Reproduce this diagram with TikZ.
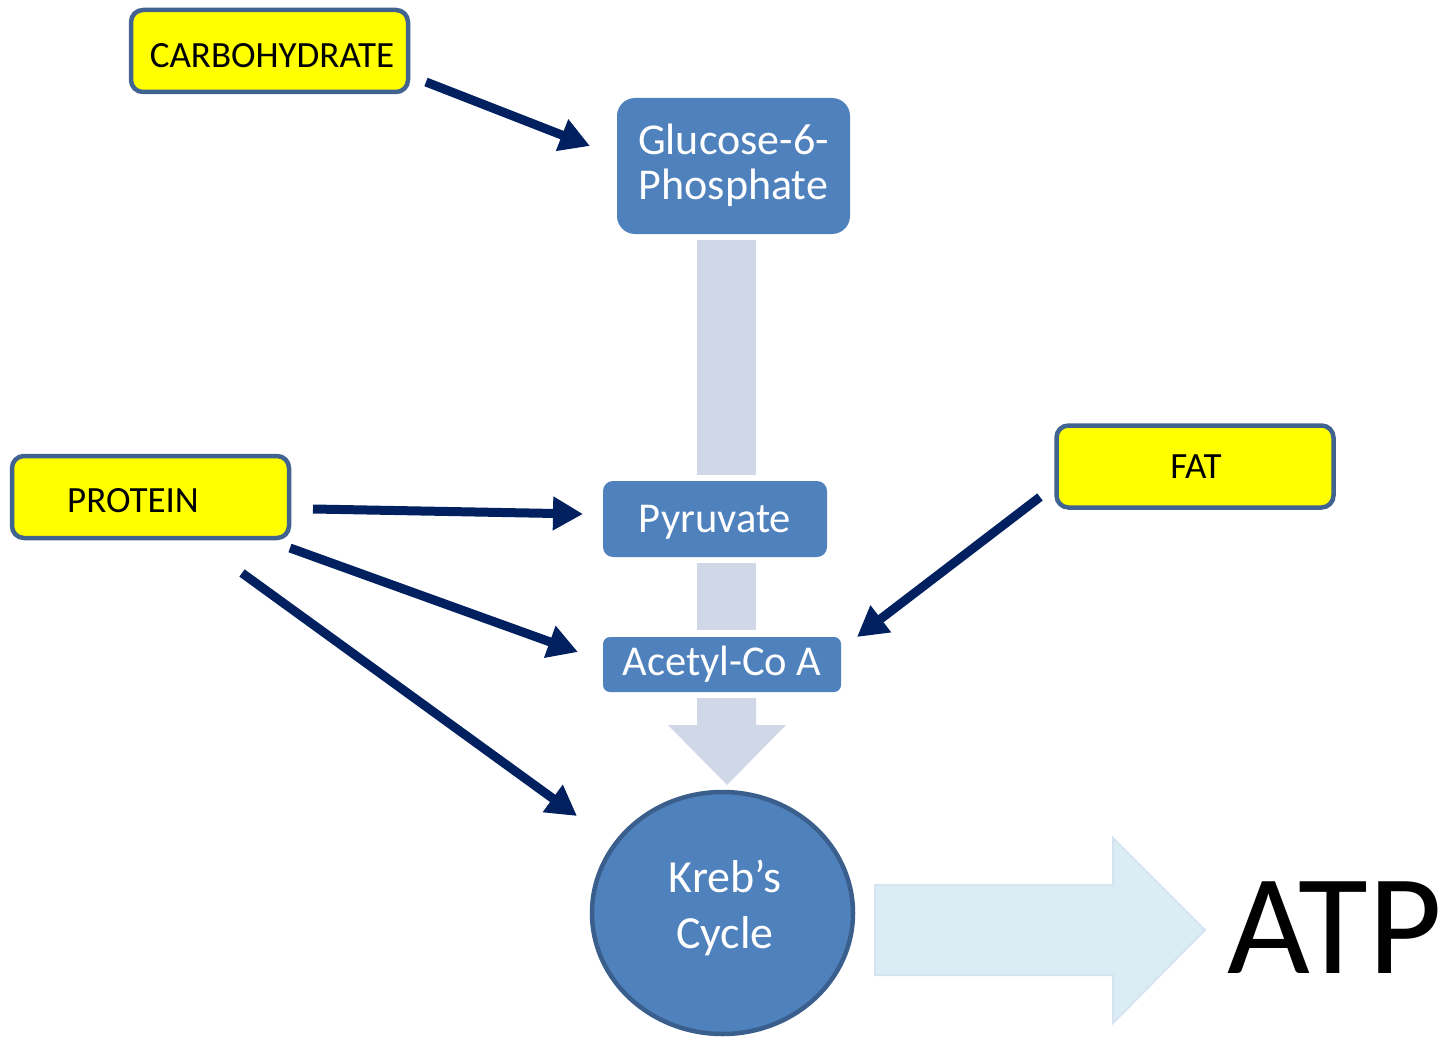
\documentclass[tikz,border=0pt]{standalone}
\usepackage{fontspec}
\setmainfont{Carlito}
\usetikzlibrary{arrows.meta,shapes.geometric}
\definecolor{ybox}{HTML}{FFFF00}
\definecolor{yborder}{HTML}{41638F}
\definecolor{bfill}{HTML}{4F81BD}
\definecolor{bborder}{HTML}{3A5F8C}
\definecolor{pale}{HTML}{D0D8E8}
\definecolor{navy}{HTML}{002060}
\definecolor{lightarrow}{HTML}{DBEDF4}
\definecolor{lightborder}{HTML}{D6E3F0}
\begin{document}
\begin{tikzpicture}[x=1pt,y=-1pt,
  srcbox/.style={draw=yborder, line width=4.5pt, fill=ybox, rounded corners=12pt,
    minimum width=277pt, minimum height=82pt, inner sep=0pt},
  srclbl/.style={anchor=base, inner sep=0pt, text=black, font=\fontsize{37}{40}\selectfont},
  stagebox/.style={fill=bfill, inner sep=0pt},
  stagelbl/.style={anchor=base, inner sep=0pt, text=white, font=\fontsize{42.5}{45}\selectfont},
  feed/.style={draw=navy, line width=9pt, -{Triangle[length=30pt,width=32pt]}},
  palebar/.style={fill=pale, draw=none}
]
\useasboundingbox (0,0) rectangle (1441,1038);

% pale connectors
\fill[palebar] (697,240) rectangle (756,475);
\fill[palebar] (697,563) rectangle (756,630);
\fill[palebar] (697,698) -- (756,698) -- (756,725) -- (786,725) -- (727,785) -- (668,725) -- (697,725) -- cycle;

% big output arrow
\draw[fill=lightarrow, draw=lightborder, line width=2pt]
  (875,885) -- (1113,885) -- (1113,838) -- (1205,930) -- (1113,1023) -- (1113,975) -- (875,975) -- cycle;

% source boxes
\node[srcbox] (carb) at (269.5,51) {};
\node[srclbl] (carblbl) at (272,68) {CARBOHYDRATE};
\node[srcbox] (protein) at (150.5,497) {};
\node[srclbl] (proteinlbl) at (133,512) {PROTEIN};
\node[srcbox] (fat) at (1195,466.5) {};
\node[srclbl] (fatlbl) at (1196,478) {FAT};

% stage boxes
\node[stagebox, rounded corners=18pt, minimum width=233pt, minimum height=136pt] (g6p) at (733.5,166) {};
\node[stagelbl, font=\fontsize{44}{45}\selectfont] (g6plbl1) at (733.5,155) {Glucose-6-};
\node[stagelbl, font=\fontsize{44}{45}\selectfont] (g6plbl2) at (733.5,200) {Phosphate};
\node[stagebox, rounded corners=10pt, minimum width=224pt, minimum height=76pt] (pyr) at (715,519) {};
\node[stagelbl] (pyrlbl) at (715,532) {Pyruvate};
\node[stagebox, rounded corners=7pt, minimum width=238pt, minimum height=55pt] (acoa) at (722,664.5) {};
\node[stagelbl] (acoalbl) at (722,675) {Acetyl-Co A};

% Krebs cycle
\node[ellipse, fill=bfill, draw=bborder, line width=4.5pt, minimum width=261pt, minimum height=242pt, inner sep=0pt] (krebs) at (722.5,913) {};
\node[stagelbl, font=\fontsize{46}{56}\selectfont] (krebslbl1) at (725,892) {Kreb’s};
\node[stagelbl, font=\fontsize{46}{56}\selectfont] (krebslbl2) at (725,948) {Cycle};

% ATP
\node[anchor=base west, inner sep=0pt, font=\fontsize{143}{150}\selectfont] (atp) at (1227,973) {ATP};

% feed arrows
\coordinate (c1s) at (426,82);   \coordinate (c1e) at (590,146);
\coordinate (p1s) at (313,509);  \coordinate (p1e) at (583,514);
\coordinate (p2s) at (290,548);  \coordinate (p2e) at (578,652);
\coordinate (p3s) at (242,573);  \coordinate (p3e) at (577,816);
\coordinate (f1s) at (1040,497); \coordinate (f1e) at (857,637);
\draw[feed] (c1s) -- (c1e);
\draw[feed] (p1s) -- (p1e);
\draw[feed] (p2s) -- (p2e);
\draw[feed] (p3s) -- (p3e);
\draw[feed] (f1s) -- (f1e);
\end{tikzpicture}
\end{document}
